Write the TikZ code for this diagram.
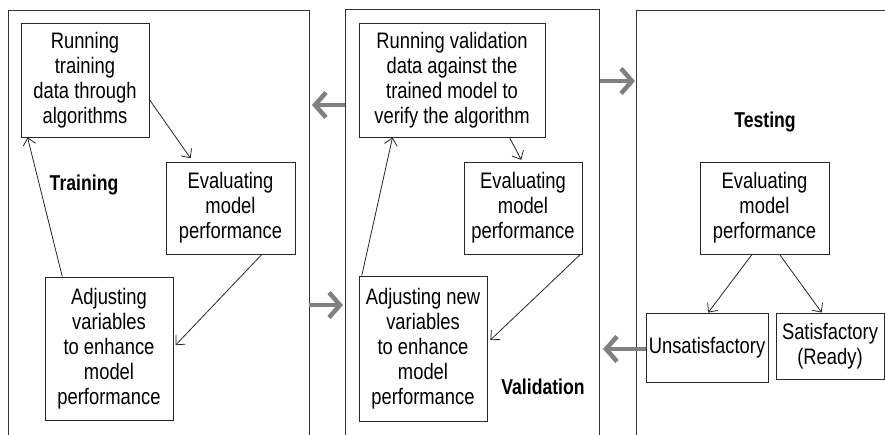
\documentclass[tikz,border=0pt]{standalone}
\usepackage{fontspec}
\setmainfont{Liberation Sans}[FakeStretch=0.82]
\usetikzlibrary{arrows.meta}

\begin{document}
\begin{tikzpicture}[x=1pt,y=1pt]
\tikzstyle{every node}+=[inner sep=0pt, font=\fontsize{22.4pt}{25pt}\selectfont]
\tikzstyle{box}=[draw=black!85, line width=0.9pt, align=center]
\tikzstyle{panel}=[draw=black!80, line width=0.9pt]
\tikzstyle{link}=[black!85, line width=0.8pt, -{Straight Barb[length=7pt,width=13pt]}]
\tikzstyle{flow}=[black!50, line width=4.5pt, -{Straight Barb[length=11pt,width=25pt]}]
\tikzstyle{stage}=[font=\fontsize{21.5pt}{25pt}\selectfont\bfseries]
\useasboundingbox (0,0) rectangle (885,-435);
\draw [panel] (8,-435) -- (8,-10) -- (309,-10) -- (309,-435);
\draw [panel] (345,-435) -- (345,-9) -- (599,-9) -- (599,-435);
\draw [panel] (636,-435) -- (636,-10) -- (885,-10);
\node [box, minimum width=128pt, minimum height=114pt] (run1) at (85,-80) {Running\\training\\data through\\algorithms};
\node [box, minimum width=129pt, minimum height=92pt] (eval1) at (230.5,-208) {Evaluating\\model\\performance};
\node [box, minimum width=128pt, minimum height=143pt] (adj1) at (109,-348.5) {Adjusting\\variables\\to enhance\\model\\performance};
\node [stage] (train) at (84,-185) {Training};
\draw [link, shorten >=4pt] (run1.-17) -- (eval1.129);
\draw [link, shorten >=3pt] (eval1.-56) -- (adj1.1);
\draw [link] (adj1.123) -- (run1.-135);
\node [box, minimum width=186pt, minimum height=114pt] (run2) at (452,-80) {Running validation\\data against the\\trained model to\\verify the algorithm};
\node [box, minimum width=118pt, minimum height=92pt] (eval2) at (523,-208) {Evaluating\\model\\performance};
\node [box, minimum width=128pt, minimum height=145pt] (adj2) at (423,-348.5) {Adjusting new\\variables\\to enhance\\model\\performance};
\node [stage] (valid) at (543,-387) {Validation};
\draw [link, shorten >=2pt] (run2.-45) -- (eval2.91);
\draw [link, shorten >=4pt] (eval2.-39) -- (adj2.5);
\draw [link] (adj2.130) -- (run2.-136);
\node [stage] (test) at (765,-122) {Testing};
\node [box, minimum width=129pt, minimum height=92pt] (eval3) at (764.5,-208) {Evaluating\\model\\performance};
\node [box, minimum width=122pt, minimum height=69pt] (unsat) at (707,-347.5) {Unsatisfactory};
\node [box, minimum width=108pt, minimum height=66pt] (sat) at (830,-346) {Satisfactory\\(Ready)};
\draw [link] (eval3.-105) -- (unsat.88);
\draw [link] (eval3.-72) -- (sat.104);
\coordinate (v1) at (345,-105);
\coordinate (t1) at (312,-105);
\coordinate (t2) at (309,-305);
\coordinate (v2) at (343,-305);
\coordinate (v3) at (600,-81);
\coordinate (s3) at (635,-81);
\coordinate (v4) at (603,-349);
\draw [flow] (v1) -- (t1);
\draw [flow] (t2) -- (v2);
\draw [flow] (v3) -- (s3);
\draw [flow] (unsat.west |- v4) -- (v4);
\end{tikzpicture}
\end{document}
